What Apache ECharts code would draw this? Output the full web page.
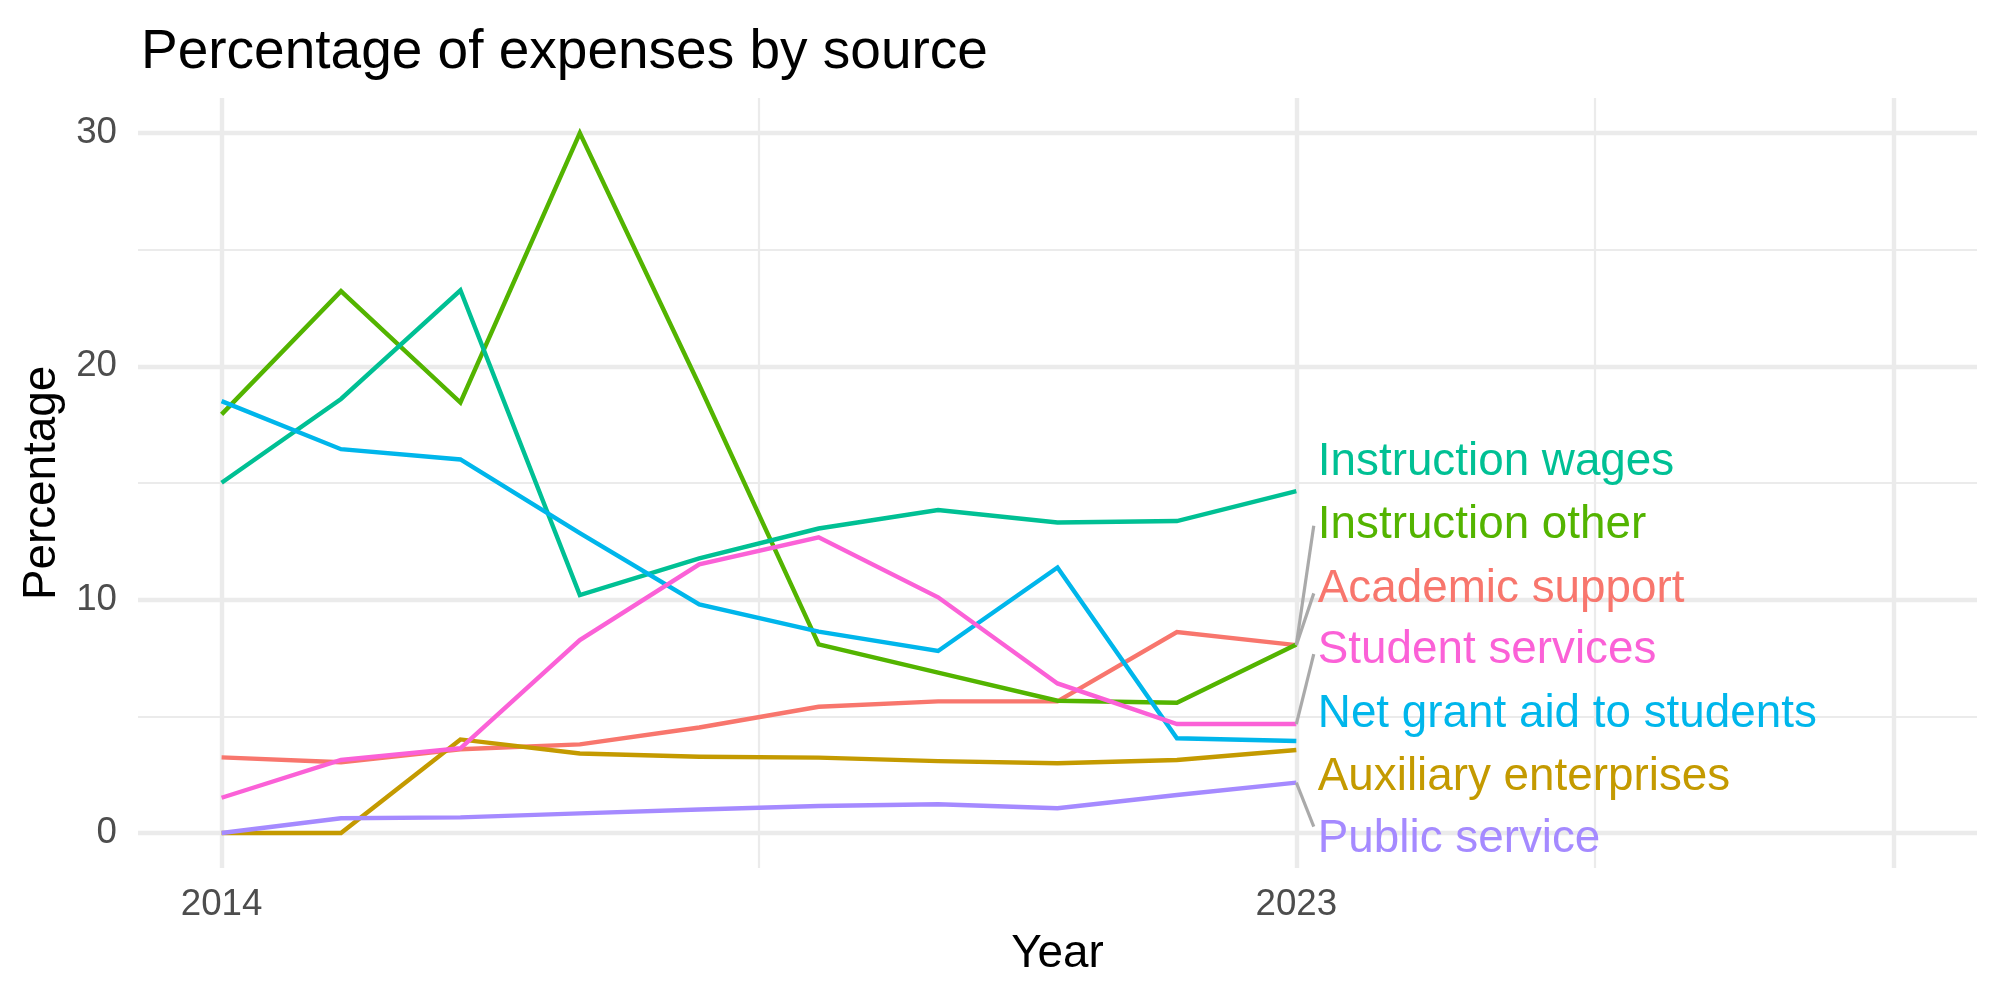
<!DOCTYPE html>
<html>
<head>
<meta charset="utf-8">
<title>Percentage of expenses by source</title>
<script src="https://cdn.jsdelivr.net/npm/echarts@6.0.0/dist/echarts.min.js"></script>
<style>
    html, body { margin: 0; padding: 0; background: #fff; }
    #chart { width: 2000px; height: 1000px; }
</style>
</head>
<body>
<div id="chart"></div>
<script>
// Data
const years = [2014, 2015, 2016, 2017, 2018, 2019, 2020, 2021, 2022, 2023]
const sources = [
    'Academic support',
    'Auxiliary enterprises',
    'Instruction other',
    'Instruction wages',
    'Net grant aid to students',
    'Public service',
    'Student services',
]
const academicSupport = [3.24, 3.03, 3.59, 3.8, 4.52, 5.41, 5.64, 5.64, 8.61, 8.05]
const auxiliaryEnterprises = [0, 0, 4.01, 3.41, 3.27, 3.23, 3.08, 2.99, 3.13, 3.56]
const instructionOther = [17.94, 23.22, 18.45, 30.0, 19.2, 8.08, 6.87, 5.67, 5.58, 8.08]
const instructionWages = [15.01, 18.6, 23.26, 10.2, 11.77, 13.05, 13.84, 13.31, 13.37, 14.65]
const netGrantAid = [18.51, 16.45, 16.01, 12.85, 9.8, 8.63, 7.8, 11.38, 4.06, 3.94]
const publicService = [0, 0.63, 0.67, 0.84, 1.01, 1.16, 1.23, 1.06, 1.63, 2.16]
const studentServices = [1.51, 3.13, 3.63, 8.27, 11.51, 12.67, 10.1, 6.41, 4.67, 4.67]
const sourceValues = [
    academicSupport,
    auxiliaryEnterprises,
    instructionOther,
    instructionWages,
    netGrantAid,
    publicService,
    studentServices,
]

// repel labels (y where each label sits, y where its leader segment ends)
const labelX = 2023.18
const labelY = [10.44, 2.39, 13.17, 15.87, 5.09, -0.28, 7.83]
const segmentEndX = 2023.146
const segmentEndY = [10.27, null, 13.17, null, null, 0.27, 7.67]

// axis ticks
const xTickLabels = [2014, 2023]
const xMajorGrid = [2014, 2023, 2028]
const xMinorGrid = [2018.5, 2025.5]
const yTickLabels = [0, 10, 20, 30]
const yMinorGrid = [5, 15, 25]

const colors = ['#F8766D', '#C49A00', '#53B400', '#00C094', '#00B6EB', '#A58AFF', '#FB61D7']
const font = 'Liberation Sans'
const gridColor = '#EBEBEB'

const chart = echarts.init(document.getElementById('chart'))

const gridLines = [
    ...xMajorGrid.map((v) => ({ xAxis: v, lineStyle: { width: 4.4 } })),
    ...xMinorGrid.map((v) => ({ xAxis: v, lineStyle: { width: 2.2 } })),
    ...yTickLabels.map((v) => ({ yAxis: v, lineStyle: { width: 4.4 } })),
    ...yMinorGrid.map((v) => ({ yAxis: v, lineStyle: { width: 2.2 } })),
]

const lineSeries = sources.map((name, i) => ({
    name: name,
    type: 'line',
    data: years.map((y, j) => [y, sourceValues[i][j]]),
    symbol: 'none',
    lineStyle: { width: 4.4, color: colors[i], cap: 'butt', join: 'miter' },
    itemStyle: { color: colors[i] },
    z: 3,
    silent: true,
}))

const segmentData = []
sources.forEach((name, i) => {
    if (segmentEndY[i] === null) return
    const last = sourceValues[i][sourceValues[i].length - 1]
    segmentData.push({ coords: [[years[years.length - 1], last], [segmentEndX, segmentEndY[i]]] })
})

const option = {
    animation: false,
    backgroundColor: '#fff',
    title: {
        text: 'Percentage of expenses by source',
        left: 136,
        top: 20,
        textStyle: { fontFamily: font, fontSize: 55, fontWeight: 'normal', color: '#000' },
    },
    grid: { left: 138, right: 23, top: 98, bottom: 132 },
    xAxis: {
        type: 'value',
        min: 2013.3,
        max: 2028.7,
        name: 'Year',
        nameLocation: 'middle',
        nameGap: 63,
        nameTextStyle: { fontFamily: font, fontSize: 45.8, color: '#000' },
        axisLine: { show: false },
        axisTick: { show: false },
        splitLine: { show: false },
        axisLabel: {
            customValues: xTickLabels,
            formatter: (v) => String(v),
            fontFamily: font,
            fontSize: 36.7,
            color: '#4D4D4D',
            margin: 18,
        },
    },
    yAxis: {
        type: 'value',
        min: -1.5,
        max: 31.5,
        name: 'Percentage',
        nameLocation: 'middle',
        nameRotate: 90,
        nameGap: 73,
        nameTextStyle: { fontFamily: font, fontSize: 45.8, color: '#000' },
        axisLine: { show: false },
        axisTick: { show: false },
        splitLine: { show: false },
        axisLabel: {
            customValues: yTickLabels,
            formatter: (v) => String(v),
            fontFamily: font,
            fontSize: 36.7,
            color: '#4D4D4D',
            margin: 21,
        },
    },
    series: [
        {
            type: 'line',
            data: [],
            z: 0,
            silent: true,
            markLine: {
                z: 0,
                silent: true,
                symbol: 'none',
                label: { show: false },
                lineStyle: { color: gridColor, type: 'solid' },
                emphasis: { disabled: true },
                data: gridLines,
            },
        },
        ...lineSeries,
        {
            type: 'lines',
            coordinateSystem: 'cartesian2d',
            z: 4,
            silent: true,
            lineStyle: { color: '#AAAAAA', width: 3.2, opacity: 1 },
            data: segmentData,
        },
        {
            type: 'scatter',
            z: 5,
            silent: true,
            symbolSize: 0,
            itemStyle: { opacity: 1 },
            data: sources.map((name, i) => ({
                name: name,
                value: [labelX, labelY[i]],
                label: { color: colors[i] },
            })),
            label: {
                show: true,
                position: [0, 0],
                align: 'left',
                verticalAlign: 'middle',
                formatter: (p) => p.name,
                fontFamily: font,
                fontSize: 45.8,
            },
        },
    ],
}

chart.setOption(option)
</script>
</body>
</html>
